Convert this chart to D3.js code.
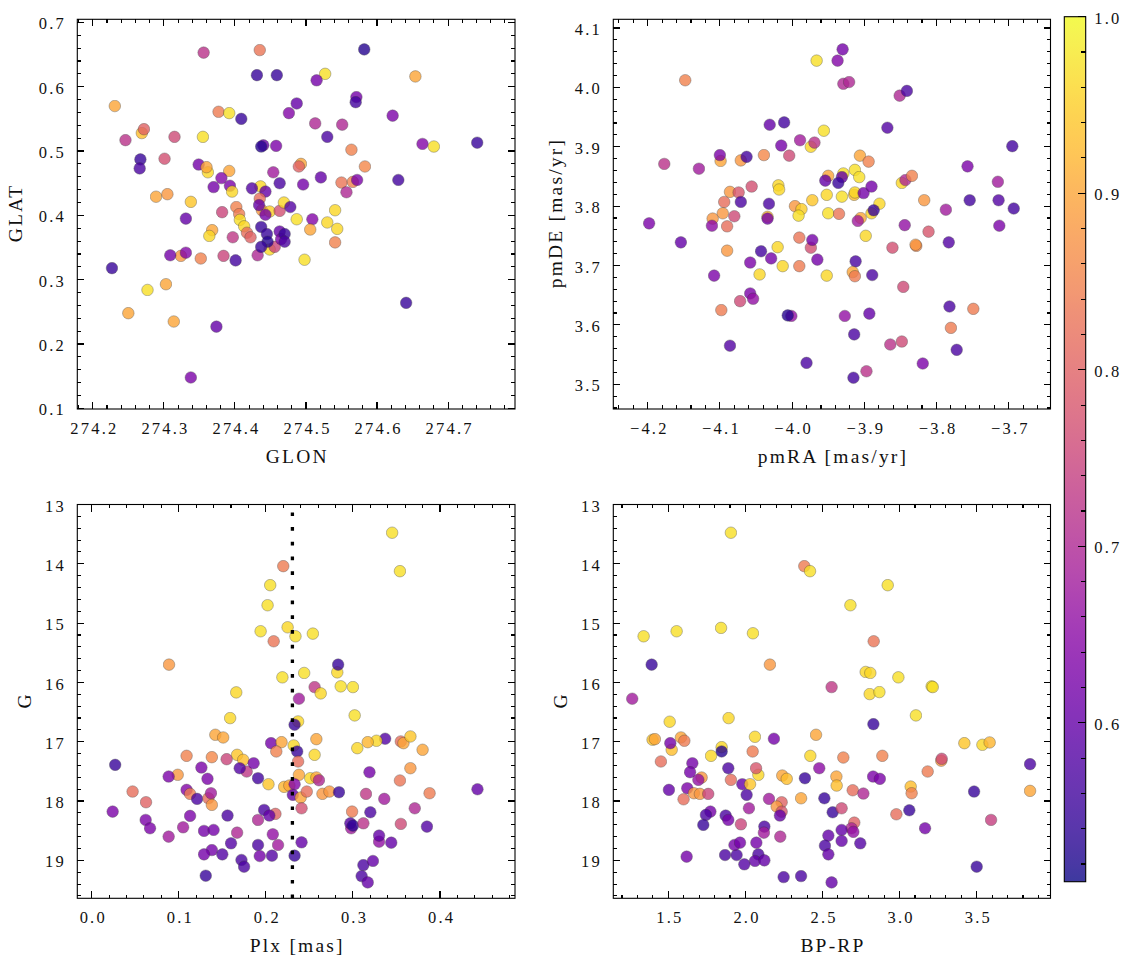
<!DOCTYPE html>
<html><head><meta charset="utf-8">
<script src="https://cdn.jsdelivr.net/npm/d3@7"></script>
<style>
body{margin:0;background:#fff;}
svg{display:block;font-family:"Liberation Serif",serif;}
</style>
</head><body>
<svg id="c" width="1133" height="965"></svg>
<script>
// ---------------- DATA ----------------
// Position panel: [GLON, GLAT, membership probability]
const posData = [
[274.356,0.653,.72],[274.435,0.657,.83],[274.582,0.658,.53],[274.431,0.618,.55],[274.459,0.618,.55],
[274.527,0.620,.97],[274.515,0.610,.62],[274.654,0.616,.90],[274.231,0.570,.90],[274.377,0.561,.84],
[274.392,0.559,.97],[274.409,0.550,.55],[274.487,0.574,.60],[274.476,0.559,.64],[274.571,0.584,.62],
[274.570,0.576,.56],[274.622,0.555,.63],[274.269,0.528,.93],[274.272,0.534,.80],[274.246,0.517,.72],
[274.315,0.522,.76],[274.355,0.522,.97],[274.513,0.543,.70],[274.551,0.541,.70],[274.530,0.522,.57],
[274.267,0.487,.55],[274.266,0.473,.57],[274.301,0.488,.77],[274.440,0.509,.60],[274.437,0.507,.53],
[274.458,0.508,.63],[274.664,0.511,.64],[274.680,0.507,.97],[274.741,0.513,.55],[274.564,0.502,.85],
[274.349,0.479,.62],[274.362,0.467,.96],[274.360,0.475,.90],[274.392,0.469,.90],[274.381,0.458,.64],
[274.370,0.444,.62],[274.393,0.446,.63],[274.396,0.437,.96],[274.436,0.445,.96],[274.424,0.442,.58],
[274.443,0.437,.60],[274.454,0.467,.68],[274.463,0.450,.57],[274.493,0.480,.90],[274.490,0.476,.80],
[274.496,0.448,.62],[274.521,0.459,.60],[274.583,0.476,.86],[274.550,0.451,.83],[274.566,0.452,.85],
[274.572,0.455,.63],[274.557,0.436,.70],[274.630,0.455,.56],[274.289,0.429,.90],[274.305,0.433,.88],
[274.338,0.421,.94],[274.331,0.395,.60],[274.382,0.405,.75],[274.402,0.413,.85],[274.406,0.402,.84],
[274.407,0.393,.97],[274.413,0.383,.96],[274.438,0.408,.88],[274.449,0.406,.95],[274.435,0.426,.82],
[274.434,0.416,.60],[274.443,0.401,.62],[274.463,0.407,.77],[274.469,0.420,.96],[274.478,0.413,.58],
[274.487,0.394,.97],[274.509,0.394,.64],[274.541,0.408,.96],[274.530,0.389,.96],[274.544,0.379,.96],
[274.506,0.378,.90],[274.368,0.377,.90],[274.364,0.368,.96],[274.397,0.366,.73],[274.417,0.373,.82],
[274.422,0.366,.80],[274.449,0.347,.96],[274.456,0.351,.75],[274.432,0.338,.70],[274.437,0.382,.55],
[274.445,0.371,.55],[274.446,0.359,.53],[274.437,0.351,.55],[274.463,0.375,.60],[274.465,0.363,.63],
[274.470,0.371,.55],[274.470,0.359,.57],[274.324,0.337,.88],[274.309,0.338,.62],[274.331,0.342,.64],
[274.352,0.333,.85],[274.384,0.337,.75],[274.401,0.330,.56],[274.498,0.331,.97],[274.541,0.358,.85],
[274.227,0.318,.55],[274.277,0.284,.97],[274.303,0.293,.90],[274.250,0.248,.90],[274.314,0.235,.90],
[274.374,0.227,.60],[274.641,0.264,.55],[274.338,0.148,.63]
];
// Proper-motion panel: [pmRA, pmDE, probability]
const pmData = [
[-3.930,4.064,.62],[-3.966,4.045,.97],[-3.937,4.045,.64],[-3.929,4.006,.70],[-3.921,4.009,.70],
[-4.148,4.012,.85],[-3.851,3.986,.70],[-3.841,3.994,.57],[-4.031,3.937,.60],[-4.011,3.941,.56],
[-3.868,3.932,.58],[-3.956,3.927,.97],[-4.015,3.902,.62],[-3.989,3.911,.68],[-3.974,3.900,.96],
[-3.969,3.907,.72],[-3.695,3.901,.56],[-4.177,3.871,.72],[-4.129,3.863,.68],[-4.099,3.876,.90],
[-4.100,3.886,.63],[-4.071,3.877,.88],[-4.063,3.883,.56],[-4.039,3.886,.86],[-4.004,3.885,.76],
[-3.906,3.885,.90],[-3.894,3.875,.85],[-3.757,3.867,.63],[-3.715,3.841,.68],[-4.086,3.824,.88],
[-4.074,3.823,.78],[-4.056,3.833,.77],[-4.094,3.807,.82],[-4.071,3.807,.57],[-4.032,3.804,.57],
[-4.019,3.835,.96],[-4.018,3.828,.96],[-4.096,3.788,.88],[-4.110,3.779,.88],[-4.111,3.767,.65],
[-4.090,3.766,.82],[-4.080,3.783,.76],[-4.034,3.782,.92],[-4.034,3.779,.62],[-3.996,3.800,.88],
[-3.987,3.795,.95],[-3.991,3.784,.97],[-3.972,3.810,.94],[-3.950,3.851,.90],[-3.954,3.843,.60],
[-3.929,3.855,.97],[-3.931,3.849,.60],[-3.936,3.839,.55],[-3.952,3.819,.96],[-3.931,3.816,.97],
[-3.950,3.788,.97],[-3.935,3.787,.83],[-3.913,3.861,.97],[-3.907,3.849,.97],[-3.914,3.819,.93],
[-3.913,3.823,.96],[-3.901,3.822,.62],[-3.890,3.833,.62],[-3.879,3.804,.96],[-3.890,3.788,.96],
[-3.887,3.793,.55],[-3.905,3.780,.90],[-3.909,3.775,.68],[-3.848,3.839,.96],[-3.843,3.844,.70],
[-3.834,3.851,.85],[-3.817,3.810,.88],[-3.844,3.768,.66],[-3.811,3.757,.78],[-3.787,3.794,.68],
[-3.754,3.810,.56],[-3.714,3.810,.58],[-3.693,3.796,.56],[-3.713,3.767,.63],[-4.198,3.771,.63],
[-4.154,3.739,.60],[-4.090,3.725,.88],[-4.043,3.724,.56],[-4.029,3.712,.62],[-4.058,3.705,.63],
[-4.020,3.731,.96],[-4.013,3.699,.96],[-4.045,3.685,.96],[-3.990,3.747,.83],[-3.974,3.730,.77],
[-3.972,3.743,.62],[-3.965,3.710,.62],[-3.990,3.699,.84],[-3.952,3.683,.96],[-3.898,3.750,.96],
[-3.912,3.707,.57],[-3.916,3.689,.90],[-3.913,3.682,.84],[-3.889,3.684,.57],[-3.861,3.730,.77],
[-3.828,3.733,.86],[-3.829,3.735,.88],[-3.783,3.739,.58],[-4.108,3.683,.63],[-4.072,3.640,.76],
[-4.058,3.653,.63],[-4.054,3.644,.66],[-4.098,3.625,.84],[-4.001,3.615,.66],[-4.006,3.616,.53],
[-3.846,3.664,.76],[-3.927,3.615,.66],[-3.893,3.619,.60],[-3.914,3.584,.57],[-3.782,3.631,.57],
[-3.749,3.627,.84],[-3.780,3.595,.84],[-3.864,3.567,.72],[-3.848,3.572,.76],[-4.086,3.565,.58],
[-3.772,3.558,.57],[-3.980,3.536,.57],[-3.819,3.535,.63],[-3.915,3.511,.56],[-3.897,3.522,.72]
];
// Parallax panel: [Plx, G, probability]
const plxData = [
[0.345,13.476,.97],[0.354,14.124,.97],[0.220,14.039,.84],[0.205,14.360,.97],[0.202,14.698,.97],
[0.194,15.137,.97],[0.225,15.070,.96],[0.234,15.222,.97],[0.254,15.177,.97],[0.209,15.306,.83],
[0.0888,15.700,.88],[0.282,15.830,.96],[0.283,15.700,.55],[0.244,15.841,.97],[0.219,15.914,.97],
[0.166,16.168,.96],[0.256,16.078,.73],[0.263,16.185,.96],[0.286,16.066,.97],[0.300,16.078,.97],
[0.238,16.275,.68],[0.159,16.601,.96],[0.302,16.556,.97],[0.237,16.658,.96],[0.233,16.714,.55],
[0.142,16.883,.90],[0.151,16.928,.90],[0.206,17.024,.62],[0.218,17.007,.90],[0.212,17.164,.85],
[0.232,17.063,.96],[0.236,17.164,.55],[0.258,16.956,.90],[0.256,17.221,.96],[0.237,17.333,.82],
[0.167,17.221,.94],[0.174,17.305,.93],[0.155,17.294,.75],[0.109,17.238,.85],[0.138,17.260,.86],
[0.027,17.390,.55],[0.178,17.502,.73],[0.170,17.446,.58],[0.186,17.362,.62],[0.191,17.615,.56],
[0.203,17.716,.94],[0.221,17.761,.92],[0.227,17.739,.90],[0.238,17.558,.90],[0.233,17.716,.64],
[0.231,17.896,.60],[0.240,17.941,.90],[0.247,17.840,.82],[0.241,18.122,.77],[0.251,17.615,.96],
[0.258,17.603,.90],[0.261,17.649,.70],[0.265,17.879,.88],[0.273,17.840,.88],[0.284,17.851,.55],
[0.0988,17.558,.88],[0.0884,17.587,.63],[0.126,17.435,.63],[0.133,17.626,.63],[0.109,17.812,.64],
[0.113,17.880,.84],[0.121,17.964,.57],[0.134,17.953,.82],[0.138,18.065,.88],[0.137,17.868,.68],
[0.047,17.840,.82],[0.0624,18.020,.80],[0.0241,18.178,.63],[0.062,18.319,.63],[0.067,18.459,.63],
[0.0884,18.600,.68],[0.105,18.443,.68],[0.113,18.251,.63],[0.129,18.504,.62],[0.140,18.488,.62],
[0.156,18.245,.57],[0.167,18.533,.70],[0.160,18.713,.58],[0.191,18.319,.70],[0.198,18.150,.57],
[0.211,18.217,.80],[0.204,18.245,.60],[0.208,18.561,.66],[0.214,18.741,.68],[0.191,18.741,.57],
[0.138,18.826,.62],[0.129,18.899,.62],[0.150,18.899,.58],[0.172,18.994,.57],[0.175,19.107,.57],
[0.193,18.927,.62],[0.207,18.921,.58],[0.233,18.921,.55],[0.241,18.696,.60],[0.131,19.259,.55],
[0.299,18.178,.84],[0.298,18.459,.68],[0.297,18.375,.58],[0.300,18.414,.54],[0.312,18.375,.72],
[0.315,17.880,.73],[0.319,17.514,.62],[0.320,18.189,.57],[0.336,17.964,.68],[0.330,18.685,.66],
[0.330,18.583,.60],[0.344,18.702,.60],[0.355,18.386,.76],[0.371,18.122,.70],[0.385,18.431,.58],
[0.388,17.868,.84],[0.354,17.654,.83],[0.366,17.446,.88],[0.355,16.995,.82],[0.358,17.024,.90],
[0.337,16.950,.58],[0.366,16.911,.94],[0.380,17.136,.90],[0.327,16.984,.96],[0.317,17.007,.92],
[0.305,17.108,.96],[0.312,19.079,.57],[0.323,19.011,.60],[0.310,19.265,.57],[0.317,19.372,.60],
[0.443,17.801,.60]
];
// Colour-magnitude panel: [BP-RP, G, probability]
const cmdData = [
[1.906,13.476,.97],[2.382,14.039,.84],[2.419,14.124,.97],[2.923,14.360,.97],[2.681,14.698,.97],
[1.340,15.222,.97],[1.554,15.137,.97],[1.842,15.081,.97],[2.049,15.171,.97],[2.832,15.306,.83],
[1.392,15.700,.55],[2.159,15.700,.88],[2.780,15.824,.96],[2.810,15.841,.96],[2.992,15.914,.97],
[2.559,16.078,.73],[3.208,16.066,.97],[3.215,16.078,.97],[2.806,16.196,.96],[2.869,16.162,.97],
[1.266,16.275,.68],[3.106,16.556,.97],[1.891,16.601,.96],[1.509,16.663,.96],[2.830,16.703,.55],
[1.398,16.967,.94],[1.413,16.956,.90],[1.522,17.136,.93],[1.513,17.024,.62],[1.582,16.928,.90],
[1.604,16.984,.84],[2.062,16.917,.96],[2.185,16.950,.62],[2.458,16.883,.90],[3.420,17.024,.94],
[3.537,17.052,.96],[3.584,17.012,.92],[3.270,17.320,.88],[3.273,17.288,.76],[3.846,17.378,.57],
[3.846,17.829,.90],[3.483,17.840,.55],[3.593,18.319,.74],[3.500,19.107,.55],[3.182,17.502,.84],
[3.072,17.756,.93],[3.078,17.868,.85],[2.979,18.223,.82],[3.063,18.155,.55],[3.165,18.459,.62],
[2.888,17.238,.85],[2.828,17.587,.63],[2.872,17.626,.63],[2.635,17.266,.85],[2.421,17.238,.96],
[2.479,17.446,.65],[2.386,17.615,.55],[2.239,17.570,.90],[2.268,17.626,.93],[2.361,17.953,.90],
[2.512,17.953,.55],[2.590,17.587,.90],[2.592,17.739,.93],[2.696,17.818,.82],[2.765,17.874,.70],
[2.566,18.189,.55],[2.624,18.122,.76],[2.706,18.364,.80],[2.688,18.459,.70],[2.700,18.520,.66],
[2.624,18.488,.60],[2.624,18.673,.60],[2.745,18.713,.58],[2.538,18.583,.60],[2.516,18.752,.57],
[2.538,18.899,.60],[2.559,19.372,.60],[2.361,19.265,.57],[2.248,19.282,.57],[2.123,18.431,.57],
[2.120,18.533,.68],[2.153,17.964,.68],[2.226,18.600,.70],[2.235,18.020,.80],[2.203,18.093,.88],
[2.235,18.180,.78],[2.224,18.245,.60],[2.071,18.702,.62],[2.084,18.899,.57],[2.062,19.011,.60],
[2.123,19.000,.60],[1.993,19.067,.58],[1.943,18.910,.57],[1.868,18.910,.57],[1.929,18.741,.62],
[1.965,18.702,.62],[1.971,18.392,.75],[2.023,18.122,.68],[2.008,17.896,.57],[1.980,17.716,.60],
[2.030,17.716,.94],[2.084,17.558,.96],[2.069,17.446,.78],[2.047,17.164,.84],[1.906,17.643,.82],
[1.889,17.446,.57],[1.846,17.091,.96],[1.846,17.164,.53],[1.777,17.238,.96],[1.656,17.362,.62],
[1.641,17.513,.62],[1.716,17.604,.88],[1.695,17.643,.66],[1.623,17.784,.63],[1.666,17.868,.88],
[1.705,17.880,.88],[1.759,17.880,.75],[1.504,17.812,.60],[1.599,17.970,.82],[1.452,17.333,.82],
[1.773,18.178,.62],[1.744,18.234,.57],[1.727,18.403,.55],[1.872,18.245,.57],[1.889,18.319,.62],
[1.619,18.938,.62]
];
// Tick values
const glonTicks = [274.2,274.3,274.4,274.5,274.6,274.7];
const glatTicks = [0.1,0.2,0.3,0.4,0.5,0.6,0.7];
const pmraTicks = [-4.2,-4.1,-4.0,-3.9,-3.8,-3.7];
const pmdeTicks = [3.5,3.6,3.7,3.8,3.9,4.0,4.1];
const plxTicks = [0.0,0.1,0.2,0.3,0.4];
const gTicks = [13,14,15,16,17,18,19];
const bprpTicks = [1.5,2.0,2.5,3.0,3.5];
const cbTicks = [0.6,0.7,0.8,0.9,1.0];
const plxLine = 0.2305;
const cbRange = [0.51, 1.0];

// ---------------- DRAWING ----------------
const svg = d3.select("#c");
const color = d3.scaleSequential(d3.interpolatePlasma).domain(cbRange);
const TICKFONT = 16.5, LABELFONT = 19.5, TLS = 2.2, LLS = 2.2;
const MAJ = 7, MIN = 3.8;

function minorVals(dom, step, major) {
  const lo = Math.min(dom[0], dom[1]), hi = Math.max(dom[0], dom[1]);
  const out = [];
  for (let i = Math.ceil(lo / step - 1e-9); i * step <= hi + 1e-9; i++) {
    const v = i * step;
    if (Math.abs(v / major - Math.round(v / major)) > 1e-6) out.push(v);
  }
  return out;
}

// draw tick marks with the scale: orient "h" (along x) or "v" (along y)
function tickMarks(parent, scale, vals, base, dir, len, orient) {
  const gg = parent.append("g").attr("stroke", "#000").attr("stroke-width", 1.1)
    .attr("shape-rendering", "crispEdges");
  gg.selectAll("line").data(vals).join("line")
    .attr(orient === "h" ? "x1" : "y1", d => scale(d))
    .attr(orient === "h" ? "x2" : "y2", d => scale(d))
    .attr(orient === "h" ? "y1" : "x1", base)
    .attr(orient === "h" ? "y2" : "x2", base + dir * len);
}

function labelAxis(g) {
  g.select(".domain").remove();
  g.selectAll("line").remove();
  g.attr("font-family", null).attr("font-size", null);
  g.selectAll("text").attr("font-family", "Liberation Serif").attr("font-size", TICKFONT)
    .attr("fill", "#111").style("letter-spacing", TLS + "px");
}

function panel(c) {
  const x = d3.scaleLinear().domain(c.xDom).range([c.L, c.R]);
  const y = d3.scaleLinear().domain(c.yDom).range([c.B, c.T]);
  const g = svg.append("g");
  const cid = "clip" + c.id;
  svg.append("clipPath").attr("id", cid).append("rect")
    .attr("x", c.L).attr("y", c.T).attr("width", c.R - c.L).attr("height", c.B - c.T);
  const pts = g.append("g").attr("clip-path", `url(#${cid})`);
  pts.selectAll("circle").data(c.data).join("circle")
    .attr("cx", d => x(d[0])).attr("cy", d => y(d[1])).attr("r", 5.8)
    .attr("fill", d => color(d[2])).attr("stroke", "#333").attr("stroke-width", 0.4)
    .attr("opacity", 0.8);
  if (c.vline !== undefined) {
    pts.append("line").attr("x1", x(c.vline)).attr("x2", x(c.vline))
      .attr("y1", c.B).attr("y2", c.T).attr("stroke", "#000")
      .attr("stroke-width", 3.3).attr("stroke-dasharray", "3.7,11");
  }
  const fmt = d3.format(c.fmtX), fmtY = d3.format(c.fmtY);
  const xMin = minorVals(c.xDom, c.xMinor, c.xMajor), yMin = minorVals(c.yDom, c.yMinor, c.yMajor);
  // tick marks on all four sides, pointing inward
  tickMarks(g, x, c.xTicks, c.B, -1, MAJ, "h");
  tickMarks(g, x, xMin, c.B, -1, MIN, "h");
  tickMarks(g, x, c.xTicks, c.T, 1, MAJ, "h");
  tickMarks(g, x, xMin, c.T, 1, MIN, "h");
  tickMarks(g, y, c.yTicks, c.L, 1, MAJ, "v");
  tickMarks(g, y, yMin, c.L, 1, MIN, "v");
  tickMarks(g, y, c.yTicks, c.R, -1, MAJ, "v");
  tickMarks(g, y, yMin, c.R, -1, MIN, "v");
  // tick labels
  g.append("g").attr("transform", `translate(0,${c.B})`)
    .call(d3.axisBottom(x).tickValues(c.xTicks).tickFormat(fmt).tickSize(0).tickPadding(13.3)).call(labelAxis)
    .selectAll("text").attr("dx", TLS / 2);
  g.append("g").attr("transform", `translate(${c.L},0)`)
    .call(d3.axisLeft(y).tickValues(c.yTicks).tickFormat(fmtY).tickSize(0).tickPadding(13.5 - TLS)).call(labelAxis)
    .selectAll("text").attr("dy", "0.4em");
  // frame
  g.append("rect").attr("x", c.L).attr("y", c.T).attr("width", c.R - c.L).attr("height", c.B - c.T)
    .attr("fill", "none").attr("stroke", "#000").attr("stroke-width", 1.1);
  // axis labels
  g.append("text").attr("x", (c.L + c.R) / 2 + LLS / 2).attr("y", c.B + 54).attr("text-anchor", "middle")
    .attr("font-size", LABELFONT).attr("fill", "#111").style("letter-spacing", LLS + "px").text(c.xLabel);
  g.append("text").attr("transform", `translate(${c.yLabX},${(c.T + c.B) / 2 - LLS / 2}) rotate(-90)`)
    .attr("text-anchor", "middle").attr("font-size", LABELFONT).attr("fill", "#111")
    .style("letter-spacing", LLS + "px").text(c.yLabel);
}

const topT = 19.3, topB = 409, botT = 504.5, botB = 898.3;
const leftL = 77.3, leftR = 515, rightL = 613.3, rightR = 1050.5;

panel({id: 1, data: posData, L: leftL, R: leftR, T: topT, B: topB,
  xDom: [274.1782, 274.7942], yDom: [0.099, 0.7048],
  xTicks: glonTicks, yTicks: glatTicks, xMajor: 0.1, xMinor: 0.02, yMajor: 0.1, yMinor: 0.02,
  fmtX: ".1f", fmtY: ".1f", xLabel: "GLON", yLabel: "GLAT", yLabX: 21.7});
panel({id: 2, data: pmData, L: rightL, R: rightR, T: topT, B: topB,
  xDom: [-4.2476, -3.6421], yDom: [3.4584, 4.1146],
  xTicks: pmraTicks, yTicks: pmdeTicks, xMajor: 0.1, xMinor: 0.02, yMajor: 0.1, yMinor: 0.02,
  fmtX: ".1f", fmtY: ".1f", xLabel: "pmRA [mas/yr]", yLabel: "pmDE [mas/yr]", yLabX: 562});
panel({id: 3, data: plxData, L: leftL, R: leftR, T: botT, B: botB,
  xDom: [-0.0165, 0.4861], yDom: [19.64, 13.0], vline: plxLine,
  xTicks: plxTicks, yTicks: gTicks, xMajor: 0.1, xMinor: 0.02, yMajor: 1, yMinor: 0.2,
  fmtX: ".1f", fmtY: "d", xLabel: "Plx [mas]", yLabel: "G", yLabX: 31});
panel({id: 4, data: cmdData, L: rightL, R: rightR, T: botT, B: botB,
  xDom: [1.1433, 3.9786], yDom: [19.64, 13.0],
  xTicks: bprpTicks, yTicks: gTicks, xMajor: 0.5, xMinor: 0.1, yMajor: 1, yMinor: 0.2,
  fmtX: ".1f", fmtY: "d", xLabel: "BP-RP", yLabel: "G", yLabX: 566.5});

// ---------------- COLORBAR ----------------
const cbL = 1064.3, cbR = 1085.7, cbT = 16.7, cbB = 881.7;
const defs = svg.append("defs");
const grad = defs.append("linearGradient").attr("id", "cbgrad")
  .attr("x1", 0).attr("y1", 1).attr("x2", 0).attr("y2", 0);
d3.range(0, 1.0001, 0.02).forEach(t => {
  grad.append("stop").attr("offset", t).attr("stop-color", d3.interpolatePlasma(t)).attr("stop-opacity", 0.8);
});
svg.append("rect").attr("x", cbL).attr("y", cbT).attr("width", cbR - cbL).attr("height", cbB - cbT)
  .attr("fill", "url(#cbgrad)");
const cbScale = d3.scaleLinear().domain(cbRange).range([cbB, cbT]);
tickMarks(svg, cbScale, cbTicks, cbR, -1, 7.5, "v");
tickMarks(svg, cbScale, minorVals(cbRange, 0.02, 0.1), cbR, -1, 4.5, "v");
svg.append("g").attr("transform", `translate(${cbR},0)`)
  .call(d3.axisRight(cbScale).tickValues(cbTicks).tickFormat(d3.format(".1f")).tickSize(0).tickPadding(8.6))
  .call(labelAxis).selectAll("text").attr("dy", "0.4em");
svg.append("rect").attr("x", cbL).attr("y", cbT).attr("width", cbR - cbL).attr("height", cbB - cbT)
  .attr("fill", "none").attr("stroke", "#000").attr("stroke-width", 1.1);
</script>
</body></html>
